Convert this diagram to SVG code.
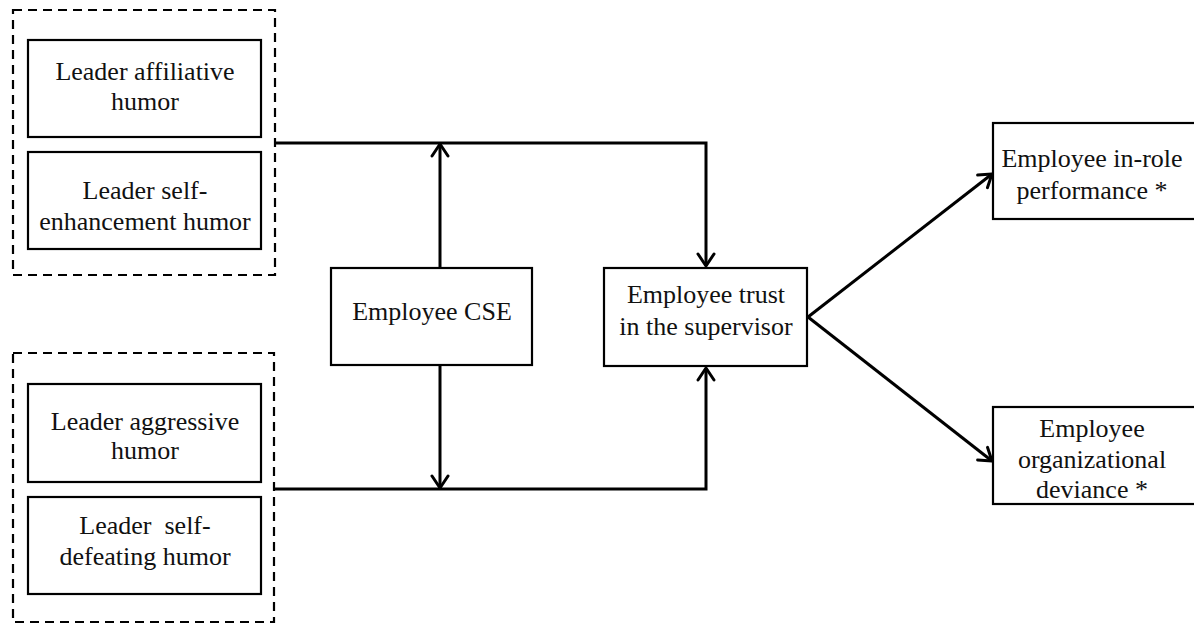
<svg xmlns="http://www.w3.org/2000/svg" width="1194" height="624" viewBox="0 0 1194 624">
<style>
.box{fill:#fff;stroke:#000;stroke-width:2.2}
.grp{fill:none;stroke:#000;stroke-width:2.2;stroke-dasharray:9,6}
.t{font-family:"Liberation Serif","Times New Roman",serif;font-size:26px;fill:#111;text-anchor:middle}
.c{fill:none;stroke:#000;stroke-width:3}
</style>
<defs>
<marker id="ah" viewBox="0 0 20 20" refX="18" refY="10" markerWidth="20" markerHeight="20" markerUnits="userSpaceOnUse" orient="auto">
<path d="M6,2 L18,10 L6,18" fill="none" stroke="#000" stroke-width="3" stroke-linecap="round" stroke-linejoin="round"/>
</marker>
</defs>
<rect width="1194" height="624" fill="#fff"/>
<g id="group-positive">
<rect class="grp" x="13" y="10" width="262" height="265"/>
</g>
<g id="group-negative">
<rect class="grp" x="13" y="353" width="261" height="269"/>
</g>
<g id="affiliative">
<rect class="box" x="28" y="40" width="233" height="97"/>
<text class="t" x="145" y="80">Leader affiliative</text>
<text class="t" x="145" y="110">humor</text>
</g>
<g id="self-enhancement">
<rect class="box" x="28" y="152" width="233" height="97"/>
<text class="t" x="145" y="199">Leader self-</text>
<text class="t" x="145" y="230">enhancement humor</text>
</g>
<g id="aggressive">
<rect class="box" x="28" y="384" width="233" height="98"/>
<text class="t" x="145" y="430">Leader aggressive</text>
<text class="t" x="145" y="459">humor</text>
</g>
<g id="self-defeating">
<rect class="box" x="28" y="497" width="233" height="97"/>
<text class="t" x="145" y="534" xml:space="preserve">Leader  self-</text>
<text class="t" x="145" y="565">defeating humor</text>
</g>
<g id="cse">
<rect class="box" x="331" y="268" width="201" height="97"/>
<text class="t" x="432" y="320">Employee CSE</text>
</g>
<g id="trust">
<rect class="box" x="604" y="268" width="203" height="98"/>
<text class="t" x="706" y="303">Employee trust</text>
<text class="t" x="706" y="335">in the supervisor</text>
</g>
<g id="inrole">
<rect class="box" x="993" y="123" width="203" height="96"/>
<text class="t" x="1092" y="167">Employee in-role</text>
<text class="t" x="1092" y="199">performance *</text>
</g>
<g id="deviance">
<rect class="box" x="993" y="407" width="203" height="97"/>
<text class="t" x="1092" y="437">Employee</text>
<text class="t" x="1092" y="468">organizational</text>
<text class="t" x="1092" y="498">deviance *</text>
</g>
<g id="connectors">
<polyline class="c" points="275,143 706,143 706,266" marker-end="url(#ah)"/>
<polyline class="c" points="274,489 706,489 706,368" marker-end="url(#ah)"/>
<line class="c" x1="440" y1="267" x2="440" y2="144" marker-end="url(#ah)"/>
<line class="c" x1="440" y1="366" x2="440" y2="488" marker-end="url(#ah)"/>
<line class="c" x1="808" y1="317" x2="992" y2="174" marker-end="url(#ah)"/>
<line class="c" x1="808" y1="317" x2="992" y2="461" marker-end="url(#ah)"/>
</g>
</svg>
